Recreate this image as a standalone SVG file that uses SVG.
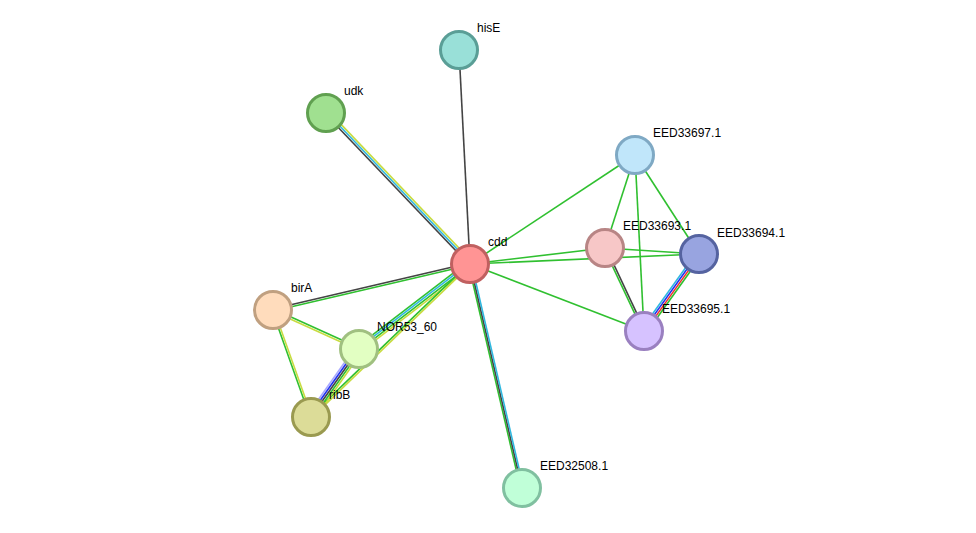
<svg xmlns="http://www.w3.org/2000/svg" width="976" height="533" viewBox="0 0 976 533">
<style>
line{stroke-width:1.6;fill:none}
.g{stroke:#30c030}.k{stroke:#444}.y{stroke:#c8dc40}.c{stroke:#30b8e0}.b{stroke:#2030f0}.l{stroke:#a8a8ff}.r{stroke:#f03030}
circle{stroke-width:3}
text{font-family:"Liberation Sans",Arial,sans-serif;font-size:12px;fill:#000}
</style>
<rect width="976" height="533" fill="#fff"/>
<g id="edges">
<line class="k" x1="470" y1="264" x2="459" y2="50"/>
<g><line class="y" x1="470" y1="264" x2="326" y2="113" transform="translate(2.2,-2.1)"/><line class="c" x1="470" y1="264" x2="326" y2="113" transform="translate(0.7,-0.7)"/><line class="k" x1="470" y1="264" x2="326" y2="113" transform="translate(-0.8,0.7)"/></g>
<g><line class="k" x1="470" y1="264" x2="273" y2="310" transform="translate(-0.3,-1)"/><line class="g" x1="470" y1="264" x2="273" y2="310" transform="translate(0.3,1)"/></g>
<g><line class="g" x1="470" y1="264" x2="359" y2="349" transform="translate(-1.8,-2.4)"/><line class="c" x1="470" y1="264" x2="359" y2="349" transform="translate(-0.6,-0.8)"/><line class="g" x1="470" y1="264" x2="359" y2="349" transform="translate(0.6,0.8)"/><line class="y" x1="470" y1="264" x2="359" y2="349" transform="translate(1.8,2.4)"/></g>
<g><line class="g" x1="470" y1="264" x2="311" y2="417" transform="translate(-0.7,-0.7)"/><line class="y" x1="470" y1="264" x2="311" y2="417" transform="translate(0.7,0.7)"/></g>
<g><line class="g" x1="470" y1="264" x2="522" y2="488" transform="translate(-1.5,0.3)"/><line class="k" x1="470" y1="264" x2="522" y2="488"/><line class="c" x1="470" y1="264" x2="522" y2="488" transform="translate(1.5,-0.3)"/></g>
<line class="g" x1="470" y1="264" x2="635" y2="155"/>
<line class="g" x1="470" y1="264" x2="605" y2="248"/>
<line class="g" x1="470" y1="264" x2="699" y2="254"/>
<line class="g" x1="470" y1="264" x2="644" y2="331"/>
<line class="g" x1="635" y1="155" x2="605" y2="248"/>
<line class="g" x1="635" y1="155" x2="699" y2="254"/>
<line class="g" x1="635" y1="155" x2="644" y2="331"/>
<line class="g" x1="605" y1="248" x2="699" y2="254"/>
<g><line class="k" x1="605" y1="248" x2="644" y2="331" transform="translate(0.9,-0.4)"/><line class="g" x1="605" y1="248" x2="644" y2="331" transform="translate(-0.9,0.4)"/></g>
<g><line class="c" x1="699" y1="254" x2="644" y2="331" transform="translate(-2.4,-1.7)"/><line class="b" x1="699" y1="254" x2="644" y2="331" transform="translate(-0.8,-0.6)"/><line class="r" x1="699" y1="254" x2="644" y2="331" transform="translate(0.8,0.6)"/><line class="g" x1="699" y1="254" x2="644" y2="331" transform="translate(2.4,1.7)"/></g>
<g><line class="g" x1="273" y1="310" x2="359" y2="349" transform="translate(0.4,-0.9)"/><line class="y" x1="273" y1="310" x2="359" y2="349" transform="translate(-0.4,0.9)"/></g>
<g><line class="g" x1="273" y1="310" x2="311" y2="417" transform="translate(-0.9,0.3)"/><line class="y" x1="273" y1="310" x2="311" y2="417" transform="translate(0.9,-0.3)"/></g>
<g><line class="l" x1="359" y1="349" x2="311" y2="417" transform="translate(-3.3,-2.3)"/><line class="b" x1="359" y1="349" x2="311" y2="417" transform="translate(-1.6,-1.2)"/><line class="k" x1="359" y1="349" x2="311" y2="417"/><line class="g" x1="359" y1="349" x2="311" y2="417" transform="translate(1.6,1.2)"/><line class="y" x1="359" y1="349" x2="311" y2="417" transform="translate(3.3,2.3)"/></g>
</g>
<g id="hisE"><circle cx="459" cy="50" r="18.5" fill="#99e0d8" stroke="#5a9e96"/><text x="477" y="32">hisE</text></g>
<g id="udk"><circle cx="326" cy="113" r="18.5" fill="#a0e090" stroke="#60a050"/><text x="344" y="95">udk</text></g>
<g id="EED33697.1"><circle cx="635" cy="155" r="18.5" fill="#c0e6fa" stroke="#7fa9c4"/><text x="653" y="137">EED33697.1</text></g>
<g id="EED33693.1"><circle cx="605" cy="248" r="18.5" fill="#f7c7c7" stroke="#b88585"/><text x="623" y="230">EED33693.1</text></g>
<g id="EED33694.1"><circle cx="699" cy="254" r="18.5" fill="#98a4e0" stroke="#5563a0"/><text x="717" y="237">EED33694.1</text></g>
<g id="EED33695.1"><circle cx="644" cy="331" r="18.5" fill="#d6c2ff" stroke="#9a80c0"/><text x="662" y="313">EED33695.1</text></g>
<g id="birA"><circle cx="273" cy="310" r="18.5" fill="#ffdcbc" stroke="#c0a080"/><text x="291" y="292">birA</text></g>
<g id="NOR53_60"><circle cx="359" cy="349" r="18.5" fill="#e2ffc2" stroke="#a0c080"/><text x="377" y="331">NOR53_60</text></g>
<g id="ribB"><circle cx="311" cy="417" r="18.5" fill="#dcdc98" stroke="#9a9a50"/><text x="329" y="399">ribB</text></g>
<g id="EED32508.1"><circle cx="522" cy="488" r="18.5" fill="#c0ffd8" stroke="#80c0a0"/><text x="540" y="470">EED32508.1</text></g>
<g id="cdd"><circle cx="470" cy="264" r="18.5" fill="#ff9494" stroke="#c06060"/><text x="488" y="246">cdd</text></g>
</svg>
